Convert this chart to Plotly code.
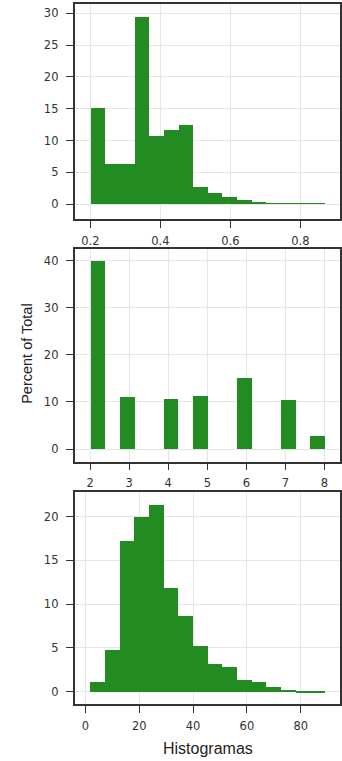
import numpy as np
import plotly.graph_objects as go
from plotly.subplots import make_subplots

# three histograms, 16 equal bins each, heights in percent of total
bins_1 = (0.2, 0.868, 16)
pct_1 = [15.1, 6.3, 6.3, 29.4, 10.7, 11.6, 12.4, 2.7,
         1.8, 1.05, 0.7, 0.3, 0.15, 0.15, 0.15, 0.15]

bins_2 = (2.0, 8.0, 16)
pct_2 = [40.0, 0, 11.1, 0, 0, 10.6, 0, 11.35,
         0, 0, 15.2, 0, 0, 10.35, 0, 2.85]

bins_3 = (1.7, 88.9, 16)
pct_3 = [1.14, 4.84, 17.26, 19.96, 21.4, 11.9, 8.65, 5.3,
         3.16, 2.86, 1.41, 1.1, 0.57, 0.27, 0.11, 0.11]

xticks = [[0.2, 0.4, 0.6, 0.8], [2, 3, 4, 5, 6, 7, 8], [0, 20, 40, 60, 80]]
yticks = [[0, 5, 10, 15, 20, 25, 30], [0, 10, 20, 30, 40], [0, 5, 10, 15, 20]]
xranges = [[0.1547, 0.913], [1.60, 8.40], [-4.05, 94.6]]
yranges = [[-2.31, 31.4], [-2.7, 42.55], [-1.44, 22.86]]
ydomains = [[0.7122, 0.9943], [0.3933, 0.6728], [0.0745, 0.3539]]

GREEN = "#228B22"
TICKFONT = "DejaVu Sans, Verdana, sans-serif"
FONT = "Liberation Sans, Arial, sans-serif"

fig = make_subplots(rows=3, cols=1)

for i, (bins, pct) in enumerate([(bins_1, pct_1), (bins_2, pct_2), (bins_3, pct_3)]):
    lo, hi, n = bins
    edges = np.linspace(lo, hi, n + 1)
    width = edges[1] - edges[0]
    centers = edges[:-1] + width / 2
    fig.add_trace(go.Bar(x=centers, y=pct, width=width,
                         marker=dict(color=GREEN, line=dict(width=0)),
                         showlegend=False, hoverinfo="skip"), row=i + 1, col=1)

axis_style = dict(showline=True, mirror=True, linecolor="#333333", linewidth=1.5,
                  ticks="outside", ticklen=7, tickcolor="#333333", tickwidth=1,
                  showgrid=True, gridcolor="#e6e6e6", gridwidth=1, zeroline=False,
                  tickfont=dict(family=TICKFONT, size=11.5, color="#333333"))

for i in range(3):
    fig.update_xaxes(row=i + 1, col=1, domain=[75 / 342, 1.0], range=xranges[i],
                     tickvals=xticks[i], ticklabelstandoff=3, **axis_style)
    fig.update_yaxes(row=i + 1, col=1, domain=ydomains[i], range=yranges[i],
                     tickvals=yticks[i], ticklabelstandoff=5, **axis_style)

fig.add_annotation(text="Histogramas", xref="paper", yref="paper",
                   x=209 / 342, y=1 - 748 / 761, showarrow=False,
                   xanchor="center", yanchor="middle",
                   font=dict(family=FONT, size=16, color="#222222"))

fig.add_annotation(text="Percent of Total", xref="paper", yref="paper",
                   x=27 / 342, y=1 - 353 / 761, textangle=-90, showarrow=False,
                   xanchor="center", yanchor="middle",
                   font=dict(family=FONT, size=14.5, color="#222222"))

fig.update_layout(width=342, height=761, autosize=False,
                  margin=dict(l=0, r=0, t=0, b=0),
                  bargap=0, plot_bgcolor="white", paper_bgcolor="white")

# drop the browser's default body margin so the figure fills the window
fig.write_html("out.html", config={"displayModeBar": False},
               post_script="document.body.style.margin='0px';")
